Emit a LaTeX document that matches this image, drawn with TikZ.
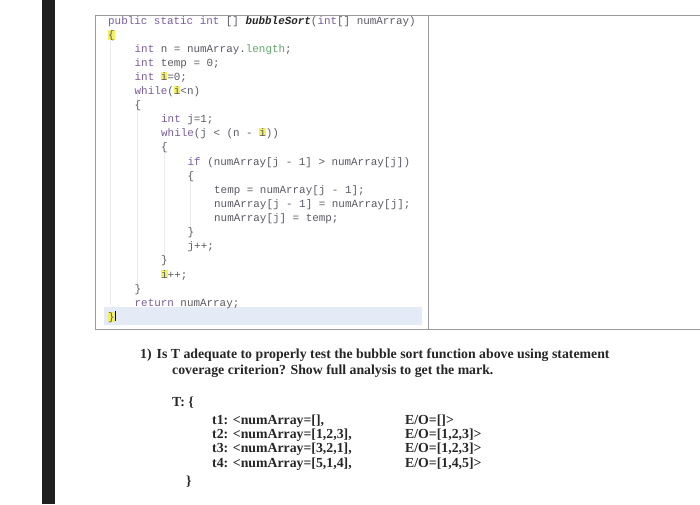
\documentclass[tikz,border=0pt]{standalone}
\usepackage{fontspec}
\setmainfont{Liberation Serif}
\setmonofont{Liberation Mono}
\definecolor{codegray}{HTML}{5A5A66}
\definecolor{kwc}{HTML}{7B5C9E}
\definecolor{grn}{HTML}{5FA86A}
\definecolor{hly}{HTML}{F2F060}
\definecolor{hlb}{HTML}{E4EAF6}
\definecolor{boxg}{HTML}{9A9A9A}
\newcommand{\kw}[1]{\textcolor{kwc}{#1}}
\newcommand{\hl}[1]{{\setlength\fboxsep{0pt}\colorbox{hly}{#1}}}
\tikzset{
  code/.style={anchor=base west, inner sep=0pt, font=\ttfamily\fontsize{10.9}{12}\selectfont, text=codegray},
  qtext/.style={anchor=base west, inner sep=0pt, font=\fontsize{13.8}{15}\selectfont\bfseries, text=black!85},
  guide/.style={draw=black!8, line width=0.6pt}
}
\begin{document}
\begin{tikzpicture}[x=1pt,y=-1pt]
\useasboundingbox (0,0) rectangle (700,504);
\fill[white] (0,0) rectangle (700,504);
\fill[black!88] (42,0) rectangle (55,504);
% code box
\fill[hlb] (104,307) rectangle (422,325);
\draw[boxg, line width=0.8pt] (95,15) rectangle (710,329);
\draw[boxg, line width=0.8pt] (428,15) -- (428,329);
\draw[guide] (110,35) -- (110,305);
\draw[guide] (137,92) -- (137,287);
\draw[guide] (164,148) -- (164,258);
\draw[guide] (190,176) -- (190,230);
\node[code] (l1) at (108,24) {\kw{public static int} [] \textcolor{black!85}{\textbf{\textit{bubbleSort}}}(\kw{int}[] numArray)};
\node[code] (l2) at (108,38) {\hl{\{}};
\node[code] (l3) at (134.5,52) {\kw{int} n = numArray.\textcolor{grn}{length};};
\node[code] (l4) at (134.5,66) {\kw{int} temp = 0;};
\node[code] (l5) at (134.5,80) {\kw{int} \hl{i}=0;};
\node[code] (l6) at (134.5,94) {\kw{while}(\hl{i}<n)};
\node[code] (l7) at (134.5,108) {\{};
\node[code] (l8) at (161,122) {\kw{int} j=1;};
\node[code] (l9) at (161,136) {\kw{while}(j < (n - \hl{i}))};
\node[code] (l10) at (161,150) {\{};
\node[code] (l11) at (187.5,165) {\kw{if} (numArray[j - 1] > numArray[j])};
\node[code] (l12) at (187.5,179) {\{};
\node[code] (l13) at (214,193) {temp = numArray[j - 1];};
\node[code] (l14) at (214,207) {numArray[j - 1] = numArray[j];};
\node[code] (l15) at (214,221) {numArray[j] = temp;};
\node[code] (l16) at (187.5,235) {\}};
\node[code] (l17) at (187.5,249) {j++;};
\node[code] (l18) at (161,263) {\}};
\node[code] (l19) at (161,278) {\hl{i}++;};
\node[code] (l20) at (134.5,292) {\}};
\node[code] (l21) at (134.5,306) {\kw{return} numArray;};
\node[code] (l22) at (108,320) {\hl{\}}\textcolor{black}{\rule[-1pt]{1pt}{10pt}}};
% question
\node[qtext] (q1) at (140,358) {1)\hspace{5pt}Is T adequate to properly test the bubble sort function above using statement};
\node[qtext] (q2) at (172,374) {coverage criterion? Show full analysis to get the mark.};
\node[qtext] (t0) at (172,406) {T: \{};
\node[qtext] (t1) at (212,424) {t1: <numArray=[],};
\node[qtext] (t2) at (212,438) {t2: <numArray=[1,2,3],};
\node[qtext] (t3) at (212,452) {t3: <numArray=[3,2,1],};
\node[qtext] (t4) at (212,467) {t4: <numArray=[5,1,4],};
\node[qtext] (e1) at (405,424) {E/O=[]>};
\node[qtext] (e2) at (405,438) {E/O=[1,2,3]>};
\node[qtext] (e3) at (405,452) {E/O=[1,2,3]>};
\node[qtext] (e4) at (405,467) {E/O=[1,4,5]>};
\node[qtext] (tc) at (186,485) {\}};
\end{tikzpicture}
\end{document}
